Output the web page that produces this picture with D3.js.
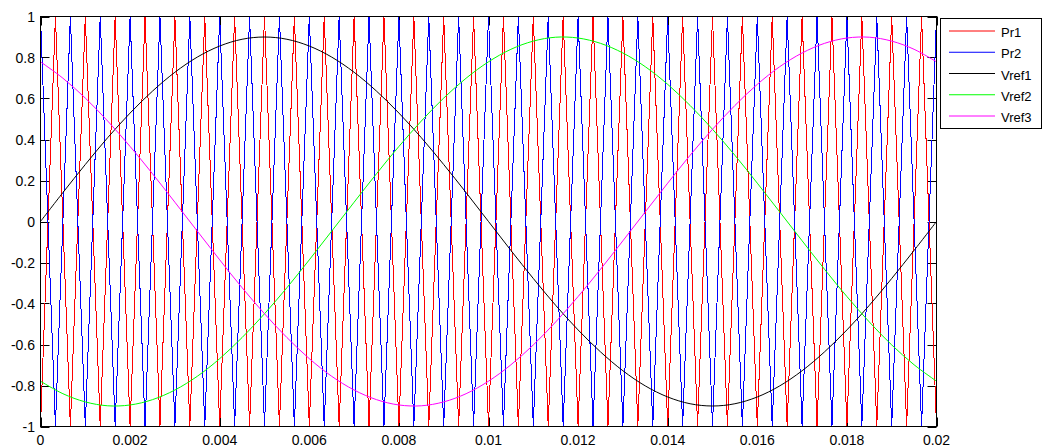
<!DOCTYPE html>
<html>
<head>
<meta charset="utf-8">
<script src="https://cdn.jsdelivr.net/npm/d3@7"></script>
<style>
  html, body { margin: 0; padding: 0; background: #fff; }
  text { font-family: "Liberation Sans", Arial, sans-serif; fill: #000; }
</style>
</head>
<body>
<div id="chart"></div>
<script>
'use strict';

// time axis
const tEnd = 0.02;
const xTicks = [0, 0.002, 0.004, 0.006, 0.008, 0.01, 0.012, 0.014, 0.016, 0.018, 0.02];
const yTicks = [-1, -0.8, -0.6, -0.4, -0.2, 0, 0.2, 0.4, 0.6, 0.8, 1];

// carrier vertices (valley / peak), 30 periods over 0.02 s
const pr1 = [
  -1, 1, -1, 1, -1, 1, -1, 1, -1, 1, -1, 1, -1, 1, -1, 1, -1, 1, -1, 1,
  -1, 1, -1, 1, -1, 1, -1, 1, -1, 1, -1, 1, -1, 1, -1, 1, -1, 1, -1, 1,
  -1, 1, -1, 1, -1, 1, -1, 1, -1, 1, -1, 1, -1, 1, -1, 1, -1, 1, -1, 1, -1
];
const pr2 = [
  1, -1, 1, -1, 1, -1, 1, -1, 1, -1, 1, -1, 1, -1, 1, -1, 1, -1, 1, -1,
  1, -1, 1, -1, 1, -1, 1, -1, 1, -1, 1, -1, 1, -1, 1, -1, 1, -1, 1, -1,
  1, -1, 1, -1, 1, -1, 1, -1, 1, -1, 1, -1, 1, -1, 1, -1, 1, -1, 1, -1, 1
];

// reference signals, read every 0.0005 s
const vref1 = [
  0, 0.141, 0.278, 0.409, 0.529, 0.636, 0.728, 0.802, 0.856, 0.889,
  0.9, 0.889, 0.856, 0.802, 0.728, 0.636, 0.529, 0.409, 0.278, 0.141,
  0, -0.141, -0.278, -0.409, -0.529, -0.636, -0.728, -0.802, -0.856, -0.889,
  -0.9, -0.889, -0.856, -0.802, -0.728, -0.636, -0.529, -0.409, -0.278, -0.141, 0
];
const vref2 = [
  -0.779, -0.840, -0.880, -0.899, -0.895, -0.869, -0.822, -0.755, -0.669, -0.566,
  -0.450, -0.323, -0.187, -0.047, 0.094, 0.233, 0.366, 0.490, 0.602, 0.699,
  0.779, 0.840, 0.880, 0.899, 0.895, 0.869, 0.822, 0.755, 0.669, 0.566,
  0.450, 0.323, 0.187, 0.047, -0.094, -0.233, -0.366, -0.490, -0.602, -0.699, -0.779
];
const vref3 = [
  0.779, 0.699, 0.602, 0.490, 0.366, 0.233, 0.094, -0.047, -0.187, -0.323,
  -0.450, -0.566, -0.669, -0.755, -0.822, -0.869, -0.895, -0.899, -0.880, -0.840,
  -0.779, -0.699, -0.602, -0.490, -0.366, -0.233, -0.094, 0.047, 0.187, 0.323,
  0.450, 0.566, 0.669, 0.755, 0.822, 0.869, 0.895, 0.899, 0.880, 0.840, 0.779
];

const seriesNames = ['Pr1', 'Pr2', 'Vref1', 'Vref2', 'Vref3'];
const seriesColors = ['#ff0000', '#0000ff', '#000000', '#00ff00', '#ff00ff'];

const width = 1045, height = 448;

const svg = d3.select('#chart').append('svg')
  .attr('width', width)
  .attr('height', height);

const x = d3.scaleLinear().domain([0, tEnd]).range([40.5, 936.5]);
const y = d3.scaleLinear().domain([-1, 1]).range([426.5, 16.5]);

const fmt = v => String(+v.toFixed(4));

// inward ticks (MATLAB style), drawn below the data
const tickLen = 9;
const ticks = svg.append('g').attr('stroke', '#000').attr('stroke-width', 1);
yTicks.forEach(v => {
  const yy = Math.round(y(v)) + 0.5;
  ticks.append('line').attr('x1', x(0)).attr('x2', x(0) + tickLen).attr('y1', yy).attr('y2', yy);
  ticks.append('line').attr('x1', x(tEnd)).attr('x2', x(tEnd) - tickLen).attr('y1', yy).attr('y2', yy);
});
xTicks.forEach(v => {
  const xx = Math.round(x(v)) + 0.5;
  ticks.append('line').attr('x1', xx).attr('x2', xx).attr('y1', y(-1)).attr('y2', y(-1) - tickLen);
  ticks.append('line').attr('x1', xx).attr('x2', xx).attr('y1', y(1)).attr('y2', y(1) + tickLen);
});

// data lines
const carrierT = pr1.map((_, i) => i * tEnd / (pr1.length - 1));
const refT = vref1.map((_, i) => i * tEnd / (vref1.length - 1));

const straight = d3.line().x(d => x(d[0])).y(d => y(d[1]));
const smooth = d3.line().x(d => x(d[0])).y(d => y(d[1])).curve(d3.curveCatmullRom);

const plot = svg.append('g').attr('fill', 'none').attr('stroke-width', 1);
[pr1, pr2].forEach((s, i) => {
  plot.append('path')
    .datum(s.map((v, k) => [carrierT[k], v]))
    .attr('d', straight)
    .attr('stroke', seriesColors[i])
    .attr('shape-rendering', 'crispEdges');
});
[vref1, vref2, vref3].forEach((s, i) => {
  plot.append('path')
    .datum(s.map((v, k) => [refT[k], v]))
    .attr('d', smooth)
    .attr('stroke', seriesColors[i + 2]);
});

// axes box
svg.append('rect')
  .attr('x', x(0)).attr('y', y(1))
  .attr('width', x(tEnd) - x(0)).attr('height', y(-1) - y(1))
  .attr('fill', 'none').attr('stroke', '#000');

// tick labels
svg.append('g').selectAll('text').data(yTicks).join('text')
  .attr('x', 35)
  .attr('y', d => y(d) + 5)
  .attr('text-anchor', 'end')
  .style('font-size', '14px')
  .text(fmt);

svg.append('g').selectAll('text').data(xTicks).join('text')
  .attr('x', d => x(d))
  .attr('y', 445)
  .attr('text-anchor', 'middle')
  .style('font-size', '14px')
  .text(fmt);

// legend
const legend = svg.append('g');
legend.append('rect')
  .attr('x', 940.5).attr('y', 18.5)
  .attr('width', 101).attr('height', 110)
  .attr('fill', '#fff').attr('stroke', '#000');

seriesNames.forEach((name, i) => {
  const ly = 31 + i * 21.25;
  legend.append('line')
    .attr('x1', 949).attr('x2', 995)
    .attr('y1', ly).attr('y2', ly)
    .attr('stroke', seriesColors[i]).attr('stroke-width', 1);
  legend.append('text')
    .attr('x', 1001).attr('y', ly + 6)
    .style('font-size', '13px')
    .text(name);
});
</script>
</body>
</html>
